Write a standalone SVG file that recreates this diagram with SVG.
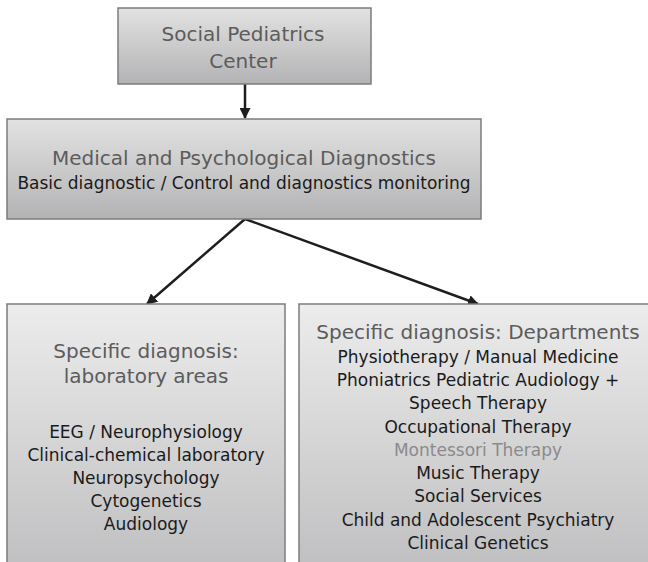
<svg xmlns="http://www.w3.org/2000/svg" width="648" height="562" viewBox="0 0 648 562">
<defs>
<linearGradient id="gSmall" x1="0" y1="0" x2="0" y2="1">
<stop offset="0" stop-color="#e2e2e2"/>
<stop offset="1" stop-color="#b3b3b5"/>
</linearGradient>
<linearGradient id="gBig" x1="0" y1="0" x2="0" y2="1">
<stop offset="0" stop-color="#ececec"/>
<stop offset="1" stop-color="#bdbdbf"/>
</linearGradient>
<marker id="ah" viewBox="0 0 10 10" refX="9" refY="5" markerWidth="11" markerHeight="11" markerUnits="userSpaceOnUse" orient="auto">
<path d="M0,0 L10,5 L0,10 Z" fill="#1e1e1e"/>
</marker>
<style>
.box{stroke:#7c7c7e;stroke-width:1.5}
.t{font-family:"DejaVu Sans",sans-serif;text-anchor:middle}
.title{font-size:20px;fill:#5c5c5c}
.body{font-size:17px;fill:#1a1a1a}
.faint{fill:#8a8a8a}
.conn{stroke:#1e1e1e;stroke-width:2.5;fill:none;marker-end:url(#ah)}
</style>
</defs>
<rect width="648" height="562" fill="#ffffff"/>
<g id="connectors">
<line class="conn" x1="245" y1="84" x2="245" y2="118"/>
<line class="conn" x1="245" y1="219" x2="147" y2="304"/>
<line class="conn" x1="245" y1="219" x2="478" y2="304"/>
</g>
<g id="node-center">
<rect class="box" x="118" y="8" width="253" height="76" fill="url(#gSmall)"/>
<text class="t title" x="243" y="41">Social Pediatrics</text>
<text class="t title" x="243" y="68">Center</text>
</g>
<g id="node-diagnostics">
<rect class="box" x="7" y="119" width="474" height="100" fill="url(#gSmall)"/>
<text class="t title" x="244" y="165">Medical and Psychological Diagnostics</text>
<text class="t body" x="244" y="189">Basic diagnostic / Control and diagnostics monitoring</text>
</g>
<g id="node-laboratory">
<rect class="box" x="7" y="304" width="278" height="280" fill="url(#gBig)"/>
<text class="t title" x="146" y="358">Specific diagnosis:</text>
<text class="t title" x="146" y="383">laboratory areas</text>
<text class="t body" x="146" y="438">EEG / Neurophysiology</text>
<text class="t body" x="146" y="461">Clinical-chemical laboratory</text>
<text class="t body" x="146" y="484">Neuropsychology</text>
<text class="t body" x="146" y="507">Cytogenetics</text>
<text class="t body" x="146" y="530">Audiology</text>
</g>
<g id="node-departments">
<rect class="box" x="299" y="304" width="358" height="280" fill="url(#gBig)"/>
<text class="t title" x="478" y="339">Specific diagnosis: Departments</text>
<text class="t body" x="478" y="363">Physiotherapy / Manual Medicine</text>
<text class="t body" x="478" y="386">Phoniatrics Pediatric Audiology +</text>
<text class="t body" x="478" y="409">Speech Therapy</text>
<text class="t body" x="478" y="433">Occupational Therapy</text>
<text class="t body faint" x="478" y="456">Montessori Therapy</text>
<text class="t body" x="478" y="479">Music Therapy</text>
<text class="t body" x="478" y="502">Social Services</text>
<text class="t body" x="478" y="526">Child and Adolescent Psychiatry</text>
<text class="t body" x="478" y="549">Clinical Genetics</text>
</g>
</svg>
